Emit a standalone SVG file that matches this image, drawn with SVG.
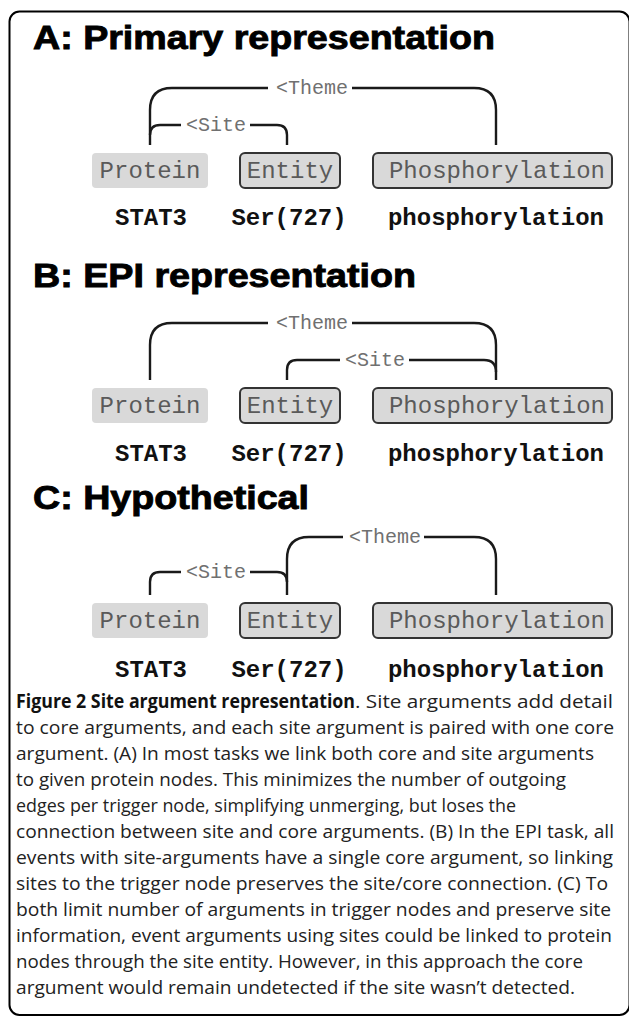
<svg xmlns="http://www.w3.org/2000/svg" width="629" height="1016" viewBox="0 0 629 1016">
<style>
.title{font-family:"Liberation Sans",Arial,sans-serif;font-weight:bold;font-size:33px;fill:#000;stroke:#000;stroke-width:0.9px}
.lbl{font-family:"Liberation Mono","Courier New",monospace;font-size:20px;fill:#707070}
.ntext{font-family:"Liberation Mono","Courier New",monospace;font-size:24px;fill:#5a5a5a;text-anchor:middle}
.word{font-family:"Liberation Mono","Courier New",monospace;font-size:24px;font-weight:bold;fill:#111;text-anchor:middle}
.gbox{fill:#d9d9d9}
.bbox{fill:#d9d9d9;stroke:#333;stroke-width:2}
.conn path{fill:none;stroke:#1a1a1a;stroke-width:2.4}
.cap{font-family:"Open Sans","Noto Sans",sans-serif;font-size:19px;fill:#222}
.capb{font-family:"Open Sans","Noto Sans",sans-serif;font-size:19px;font-weight:bold;fill:#111}
</style>
<rect x="9.5" y="11.5" width="620" height="1003.5" rx="10" fill="#fff" stroke="#000" stroke-width="2"/>

<g id="panelA">
<text class="title" x="33" y="49" textLength="462" lengthAdjust="spacingAndGlyphs">A: Primary representation</text>
<g id="A-protein"><rect class="gbox" x="92" y="153" width="116" height="35" rx="4"/><text class="ntext" x="150" y="178">Protein</text><text class="word" x="151" y="225">STAT3</text></g>
<g id="A-entity"><rect class="bbox" x="240" y="153" width="100" height="35" rx="5"/><text class="ntext" x="290" y="178">Entity</text><text class="word" x="289" y="225">Ser(727)</text></g>
<g id="A-phos"><rect class="bbox" x="373" y="153" width="239" height="35" rx="5"/><text class="ntext" x="497" y="178">Phosphorylation</text><text class="word" x="496" y="225">phosphorylation</text></g>
<g class="conn" id="A-connectors">
<path d="M150,145 V110 Q150,88 172,88 H268"/>
<path d="M352,88 H474 Q496,88 496,110 V145"/>
<path d="M150,135 Q150,125 160,125 H181"/>
<path d="M250,125 H277 Q287,125 287,135 V145"/>
<text class="lbl" x="276" y="94">&lt;Theme</text>
<text class="lbl" x="186" y="131">&lt;Site</text>
</g>
</g>

<g id="panelB">
<text class="title" x="33" y="287" textLength="383" lengthAdjust="spacingAndGlyphs">B: EPI representation</text>
<g id="B-protein"><rect class="gbox" x="92" y="388" width="116" height="35" rx="4"/><text class="ntext" x="150" y="413">Protein</text><text class="word" x="151" y="461">STAT3</text></g>
<g id="B-entity"><rect class="bbox" x="240" y="388" width="100" height="35" rx="5"/><text class="ntext" x="290" y="413">Entity</text><text class="word" x="289" y="461">Ser(727)</text></g>
<g id="B-phos"><rect class="bbox" x="373" y="388" width="239" height="35" rx="5"/><text class="ntext" x="497" y="413">Phosphorylation</text><text class="word" x="496" y="461">phosphorylation</text></g>
<g class="conn" id="B-connectors">
<path d="M150,380 V345 Q150,323 172,323 H268"/>
<path d="M352,323 H474 Q496,323 496,345 V380"/>
<path d="M287,380 V370 Q287,360 297,360 H340"/>
<path d="M409,360 H484 Q496,360 496,372"/>
<text class="lbl" x="276" y="329">&lt;Theme</text>
<text class="lbl" x="345" y="366">&lt;Site</text>
</g>
</g>

<g id="panelC">
<text class="title" x="33" y="509" textLength="276" lengthAdjust="spacingAndGlyphs">C: Hypothetical</text>
<g id="C-protein"><rect class="gbox" x="92" y="603" width="116" height="35" rx="4"/><text class="ntext" x="150" y="628">Protein</text><text class="word" x="151" y="677">STAT3</text></g>
<g id="C-entity"><rect class="bbox" x="240" y="603" width="100" height="35" rx="5"/><text class="ntext" x="290" y="628">Entity</text><text class="word" x="289" y="677">Ser(727)</text></g>
<g id="C-phos"><rect class="bbox" x="373" y="603" width="239" height="35" rx="5"/><text class="ntext" x="497" y="628">Phosphorylation</text><text class="word" x="496" y="677">phosphorylation</text></g>
<g class="conn" id="C-connectors">
<path d="M287,595 V559 Q287,537 309,537 H343"/>
<path d="M424,537 H474 Q496,537 496,559 V595"/>
<path d="M150,595 V582 Q150,572 160,572 H181"/>
<path d="M250,572 H277 Q287,572 287,582"/>
<text class="lbl" x="349" y="543">&lt;Theme</text>
<text class="lbl" x="186" y="578">&lt;Site</text>
</g>
</g>

<g id="caption">
<text class="capb" x="16" y="708" textLength="339" lengthAdjust="spacingAndGlyphs">Figure 2 Site argument representation</text>
<text class="cap" x="355" y="708" textLength="258" lengthAdjust="spacingAndGlyphs">. Site arguments add detail</text>
<text class="cap" x="16" y="734" textLength="598" lengthAdjust="spacingAndGlyphs">to core arguments, and each site argument is paired with one core</text>
<text class="cap" x="16" y="760" textLength="578" lengthAdjust="spacingAndGlyphs">argument. (A) In most tasks we link both core and site arguments</text>
<text class="cap" x="16" y="786" textLength="550" lengthAdjust="spacingAndGlyphs">to given protein nodes. This minimizes the number of outgoing</text>
<text class="cap" x="16" y="812" textLength="500" lengthAdjust="spacingAndGlyphs">edges per trigger node, simplifying unmerging, but loses the</text>
<text class="cap" x="16" y="838" textLength="598" lengthAdjust="spacingAndGlyphs">connection between site and core arguments. (B) In the EPI task, all</text>
<text class="cap" x="16" y="864" textLength="597" lengthAdjust="spacingAndGlyphs">events with site-arguments have a single core argument, so linking</text>
<text class="cap" x="16" y="890" textLength="592" lengthAdjust="spacingAndGlyphs">sites to the trigger node preserves the site/core connection. (C) To</text>
<text class="cap" x="16" y="916" textLength="595" lengthAdjust="spacingAndGlyphs">both limit number of arguments in trigger nodes and preserve site</text>
<text class="cap" x="16" y="942" textLength="596" lengthAdjust="spacingAndGlyphs">information, event arguments using sites could be linked to protein</text>
<text class="cap" x="16" y="968" textLength="567" lengthAdjust="spacingAndGlyphs">nodes through the site entity. However, in this approach the core</text>
<text class="cap" x="16" y="994" textLength="559" lengthAdjust="spacingAndGlyphs">argument would remain undetected if the site wasn’t detected.</text>
</g>
</svg>
